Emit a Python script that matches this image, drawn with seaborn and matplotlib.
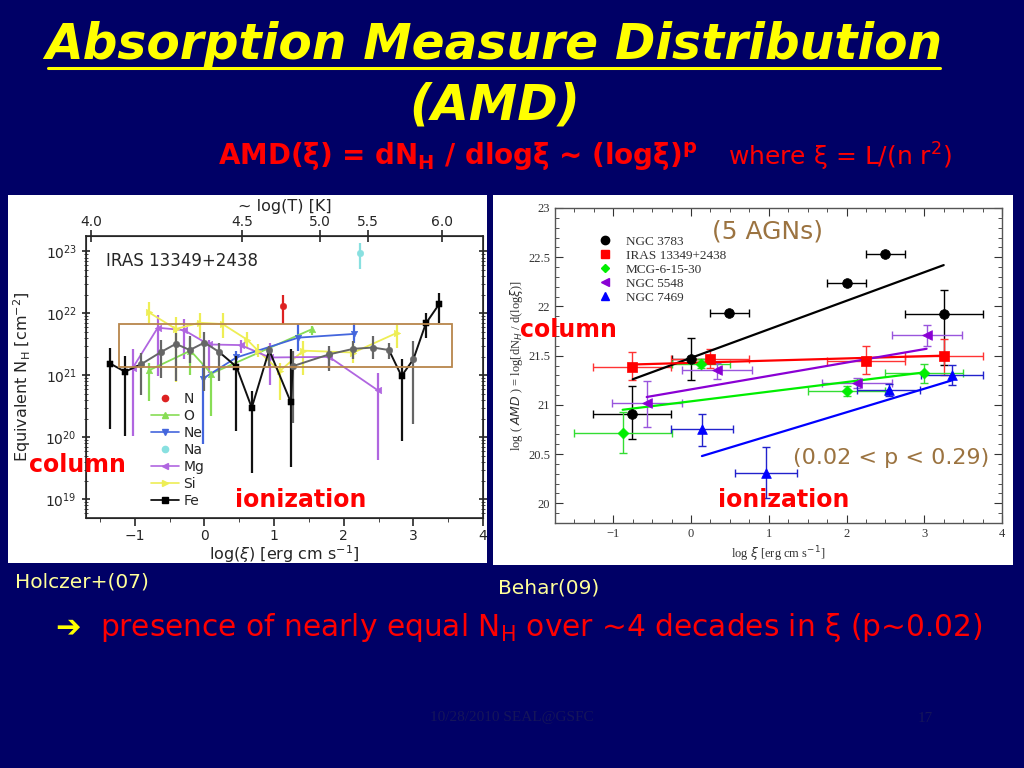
import numpy as np
import matplotlib
matplotlib.use('Agg')
import matplotlib.pyplot as plt
from matplotlib.patches import Rectangle
from matplotlib.lines import Line2D
from matplotlib.ticker import MultipleLocator, LogLocator, NullFormatter
import seaborn as sns

# ---------------- Holczer+(07): IRAS 13349+2438, log N_H per ion vs log(xi)
n_x = [1.13]
n_y = [22.12]
n_lo = [21.83]
n_hi = [22.30]

o_x = [-0.80, -0.20, 0.10, 1.55]
o_y = [21.08, 21.40, 21.03, 21.75]
o_lo = [20.58, 21.00, 20.34, 21.66]
o_hi = [21.20, 21.60, 21.04, 21.80]

ne_x = [-0.02, 0.46, 1.35, 2.15]
ne_y = [20.95, 21.29, 21.61, 21.67]
ne_lo = [19.90, 21.15, 21.39, 21.53]
ne_hi = [21.18, 21.40, 21.83, 21.85]

na_x = [2.24]
na_y = [22.98]
na_lo = [22.72]
na_hi = [23.14]

mg_x = [-1.03, -0.67, -0.29, 0.06, 0.52, 0.94, 1.79, 2.49]
mg_y = [21.12, 21.77, 21.73, 21.50, 21.49, 21.29, 21.30, 20.76]
mg_lo = [20.02, 20.99, 21.26, 21.04, 21.37, 20.85, 21.10, 19.64]
mg_hi = [21.42, 21.97, 21.91, 21.58, 21.58, 21.53, 21.42, 21.04]

si_x = [-0.80, -0.41, -0.07, 0.26, 0.61, 0.77, 1.08, 1.42, 2.14, 2.77]
si_y = [22.02, 21.75, 21.85, 21.83, 21.58, 21.40, 21.07, 21.40, 21.37, 21.69]
si_lo = [21.85, 20.90, 21.60, 21.60, 21.45, 21.30, 20.60, 21.00, 21.20, 21.45]
si_hi = [22.18, 21.95, 22.00, 22.00, 21.70, 21.50, 21.20, 21.55, 21.50, 21.82]

fe_x = [-1.35, -1.14, -0.91, -0.62, -0.41, -0.21, 0.00, 0.21, 0.46, 0.68, 0.93,
        1.24, 1.27, 1.79, 2.14, 2.42, 2.65, 2.83, 3.00, 3.18, 3.37]
fe_y = [21.19, 21.06, 21.18, 21.38, 21.51, 21.41, 21.53, 21.38, 21.14, 20.48, 21.41,
        20.57, 21.15, 21.34, 21.43, 21.45, 21.41, 20.99, 21.26, 21.84, 22.15]
fe_lo = [20.14, 20.02, 20.69, 20.96, 20.91, 21.20, 20.75, 20.91, 20.10, 19.42, 21.15,
         19.52, 20.23, 21.07, 21.26, 21.26, 21.26, 19.94, 20.21, 21.61, 21.85]
fe_hi = [21.45, 21.32, 21.37, 21.57, 21.69, 21.64, 21.70, 21.53, 21.31, 20.75, 21.48,
         21.42, 21.40, 21.48, 21.56, 21.63, 21.53, 21.26, 21.56, 22.01, 22.33]
fe_dark = [1, 1, 0, 0, 0, 0, 0, 0, 1, 1, 0, 1, 0, 0, 0, 0, 0, 1, 0, 1, 1]

box_xi = [-1.22, 3.56]
box_lognh = [21.14, 21.83]

# top axis: log(T) labels at log(xi) positions
logT_labels = ['4.0', '4.5', '5.0', '5.5', '6.0']
logT_at_xi = [-1.63, 0.54, 1.66, 2.35, 3.41]

# ---------------- Behar(09): log AMD for 5 AGNs
agn_names = ['NGC 3783', 'IRAS 13349+2438', 'MCG-6-15-30', 'NGC 5548', 'NGC 7469']

n3783_x = [-0.76, 0.00, 0.49, 2.00, 2.50, 3.25]
n3783_y = [20.91, 21.47, 21.93, 22.24, 22.53, 21.92]
n3783_xe = [0.50, 0.25, 0.25, 0.25, 0.25, 0.50]
n3783_yl = [0.26, 0.22, 0.02, 0.02, 0.02, 0.52]
n3783_yh = [0.28, 0.21, 0.02, 0.02, 0.02, 0.25]
n3783_fit_x = [-0.75, 3.25]
n3783_fit_y = [21.26, 22.42]

iras_x = [-0.76, 0.245, 2.25, 3.25]
iras_y = [21.38, 21.47, 21.45, 21.50]
iras_xe = [0.50, 0.50, 0.50, 0.50]
iras_yl = [0.13, 0.10, 0.14, 0.20]
iras_yh = [0.16, 0.10, 0.15, 0.17]
iras_fit_x = [-0.76, 3.25]
iras_fit_y = [21.41, 21.50]

mcg_x = [-0.88, 0.13, 2.00, 3.00]
mcg_y = [20.71, 21.42, 21.14, 21.32]
mcg_xl = [0.62, 0.38, 0.50, 0.50]
mcg_xh = [0.63, 0.37, 0.50, 0.50]
mcg_yl = [0.20, 0.05, 0.05, 0.10]
mcg_yh = [0.22, 0.05, 0.05, 0.10]
mcg_fit_x = [-0.88, 3.00]
mcg_fit_y = [20.95, 21.33]

n5548_x = [-0.57, 0.34, 2.13, 3.03]
n5548_y = [21.02, 21.35, 21.22, 21.71]
n5548_xe = [0.45, 0.45, 0.45, 0.45]
n5548_yl = [0.24, 0.09, 0.05, 0.11]
n5548_yh = [0.22, 0.08, 0.05, 0.10]
n5548_fit_x = [-0.57, 3.03]
n5548_fit_y = [21.08, 21.57]

n7469_x = [0.14, 0.96, 2.54, 3.36]
n7469_y = [20.75, 20.31, 21.15, 21.30]
n7469_xe = [0.40, 0.40, 0.41, 0.40]
n7469_yl = [0.17, 0.26, 0.06, 0.10]
n7469_yh = [0.16, 0.26, 0.06, 0.10]
n7469_fit_x = [0.14, 3.36]
n7469_fit_y = [20.48, 21.25]


def fx(px):
    return px / 1024.0


def fy(py):
    return 1.0 - py / 768.0


sns.set_style('ticks')
plt.rcParams['font.family'] = ['DejaVu Sans']
plt.rcParams['mathtext.fontset'] = 'dejavusans'

navy = '#000066'
fig = plt.figure(figsize=(10.24, 7.68), dpi=100, facecolor=navy)

# white panels behind the two plots
fig.patches.append(Rectangle((fx(8), fy(563)), fx(479), 368 / 768.0, transform=fig.transFigure,
                             facecolor='white', edgecolor='none', zorder=-5))
fig.patches.append(Rectangle((fx(493), fy(565)), fx(520), 370 / 768.0, transform=fig.transFigure,
                             facecolor='white', edgecolor='none', zorder=-5))

# ================= left panel
axL = fig.add_axes([fx(86), fy(518), fx(397), 282 / 768.0])
axL.set_facecolor('white')
axL.set_yscale('log')


def draw_ion(ax, x, y, lo, hi, color, marker, line=True, ecolor=None):
    x = np.array(x)
    y = np.array(y)
    yv = 10 ** y
    err = [yv - 10 ** np.array(lo), 10 ** np.array(hi) - yv]
    ax.errorbar(x, yv, yerr=err, fmt='none', ecolor=ecolor or color, elinewidth=1.6, zorder=2)
    if line:
        sns.lineplot(x=x, y=yv, ax=ax, color=color, lw=1.3, sort=False, estimator=None, zorder=3)
    sns.scatterplot(x=x, y=yv, ax=ax, color=color, marker=marker, s=22, edgecolor=color, zorder=4)


ion_style = {
    'N': ('#DD2222', 'o', False),
    'O': ('#88DD55', '^', True),
    'Ne': ('#4466DD', 'v', True),
    'Na': ('#88E0E0', 'o', False),
    'Mg': ('#B066E0', '<', True),
    'Si': ('#EEEE55', '>', True),
}
draw_ion(axL, si_x, si_y, si_lo, si_hi, *ion_style['Si'])
draw_ion(axL, o_x, o_y, o_lo, o_hi, *ion_style['O'])
draw_ion(axL, mg_x, mg_y, mg_lo, mg_hi, *ion_style['Mg'])
draw_ion(axL, ne_x, ne_y, ne_lo, ne_hi, *ion_style['Ne'])
draw_ion(axL, n_x, n_y, n_lo, n_hi, *ion_style['N'])
draw_ion(axL, na_x, na_y, na_lo, na_hi, *ion_style['Na'])

# Fe
fe_xa = np.array(fe_x)
fe_v = 10 ** np.array(fe_y)
fe_dk = np.array(fe_dark, dtype=bool)
fe_err = [fe_v - 10 ** np.array(fe_lo), 10 ** np.array(fe_hi) - fe_v]
ecols = np.where(fe_dk, '#111111', '#666666')
for i in range(len(fe_x)):
    axL.errorbar([fe_xa[i]], [fe_v[i]], yerr=[[fe_err[0][i]], [fe_err[1][i]]], fmt='none',
                 ecolor=ecols[i], elinewidth=1.6, zorder=5)
for i in range(len(fe_x) - 1):
    c = '#111111' if (fe_dk[i] or fe_dk[i + 1]) else '#666666'
    sns.lineplot(x=fe_xa[i:i + 2], y=fe_v[i:i + 2], ax=axL, color=c, lw=1.4, sort=False,
                 estimator=None, zorder=6)
sns.scatterplot(x=fe_xa[fe_dk], y=fe_v[fe_dk], ax=axL, color='black', marker='s', s=20,
                edgecolor='black', zorder=7)
sns.scatterplot(x=fe_xa[~fe_dk], y=fe_v[~fe_dk], ax=axL, color='#666666', marker='o', s=22,
                edgecolor='#666666', zorder=7)

axL.add_patch(Rectangle((box_xi[0], 10 ** box_lognh[0]), box_xi[1] - box_xi[0],
                        10 ** box_lognh[1] - 10 ** box_lognh[0], facecolor='none',
                        edgecolor='#B8864B', lw=1.3, zorder=8))

axL.set_xlim(-1.7, 4.0)
axL.set_ylim(10 ** 18.7, 10 ** 23.25)
axL.set_xticks([-1, 0, 1, 2, 3, 4])
axL.xaxis.set_minor_locator(MultipleLocator(0.5))
axL.yaxis.set_major_locator(LogLocator(base=10, numticks=10))
axL.yaxis.set_minor_locator(LogLocator(base=10, subs=np.arange(2, 10), numticks=20))
axL.yaxis.set_minor_formatter(NullFormatter())
axL.tick_params(axis='both', which='major', labelsize=10, length=6, width=1.2)
axL.tick_params(axis='y', which='both', direction='inout', right=True)
axL.tick_params(axis='x', which='both', direction='out', pad=2)
axL.tick_params(axis='both', which='minor', length=3)
for sp in axL.spines.values():
    sp.set_linewidth(1.2)
axL.set_xlabel(r'log($\xi$) [erg cm s$^{-1}$]', fontsize=11.5, labelpad=0)
axL.set_ylabel(r'Equivalent N$_{\rm H}$ [cm$^{-2}$]', fontsize=11.5, labelpad=9)

axT = axL.twiny()
axT.set_xlim(axL.get_xlim())
axT.set_xticks(logT_at_xi, logT_labels)
axT.tick_params(axis='x', direction='inout', length=8, width=1.2, labelsize=10, pad=1)
axT.set_xlabel('~ log(T) [K]', fontsize=11.5, labelpad=3)

axL.text(0.05, 0.91, 'IRAS 13349+2438', transform=axL.transAxes, fontsize=12, va='center')

leg_h = [
    Line2D([], [], color=ion_style['N'][0], marker='o', lw=0, markersize=4.5),
    Line2D([], [], color=ion_style['O'][0], marker='^', lw=1.2, markersize=4.5),
    Line2D([], [], color=ion_style['Ne'][0], marker='v', lw=1.2, markersize=4.5),
    Line2D([], [], color=ion_style['Na'][0], marker='o', lw=0, markersize=4.5),
    Line2D([], [], color=ion_style['Mg'][0], marker='<', lw=1.2, markersize=4.5),
    Line2D([], [], color=ion_style['Si'][0], marker='>', lw=1.2, markersize=4.5),
    Line2D([], [], color='black', marker='s', lw=1.2, markersize=4),
]
axL.legend(leg_h, ['N', 'O', 'Ne', 'Na', 'Mg', 'Si', 'Fe'], loc='lower left',
           bbox_to_anchor=(0.14, 0.0), frameon=False, fontsize=10, handlelength=2.0,
           labelspacing=0.22, handletextpad=0.3, borderaxespad=0.3)

# ================= right panel
axR = fig.add_axes([fx(555), fy(523), fx(447), 315 / 768.0])
axR.set_facecolor('white')

agn_sets = [
    (n3783_x, n3783_y, [n3783_xe, n3783_xe], [n3783_yl, n3783_yh], n3783_fit_x, n3783_fit_y,
     'black', 'black', 'o', 7),
    (iras_x, iras_y, [iras_xe, iras_xe], [iras_yl, iras_yh], iras_fit_x, iras_fit_y,
     '#FF0000', '#FF3333', 's', 7),
    (mcg_x, mcg_y, [mcg_xl, mcg_xh], [mcg_yl, mcg_yh], mcg_fit_x, mcg_fit_y,
     '#00EE00', '#33DD33', 'D', 5.5),
    (n5548_x, n5548_y, [n5548_xe, n5548_xe], [n5548_yl, n5548_yh], n5548_fit_x, n5548_fit_y,
     '#8A00D4', '#9955DD', '<', 7),
    (n7469_x, n7469_y, [n7469_xe, n7469_xe], [n7469_yl, n7469_yh], n7469_fit_x, n7469_fit_y,
     '#0000FF', '#2222CC', '^', 7),
]
for (x, y, xe, ye, fxx, fyy, col, ecol, mk, ms) in agn_sets:
    axR.errorbar(x, y, xerr=xe, yerr=ye, fmt='none', ecolor=ecol, elinewidth=1.0,
                 capsize=3, capthick=1.0, zorder=2)
    sns.lineplot(x=fxx, y=fyy, ax=axR, color=col, lw=1.6, sort=False, estimator=None, zorder=3)
    sns.scatterplot(x=x, y=y, ax=axR, color=col, marker=mk, s=ms ** 2, edgecolor=col,
                    linewidth=0.5, zorder=4)

axR.set_xlim(-1.75, 4.0)
axR.set_ylim(19.8, 23.0)
axR.xaxis.set_major_locator(MultipleLocator(1))
axR.xaxis.set_minor_locator(MultipleLocator(0.25))
axR.yaxis.set_major_locator(MultipleLocator(0.5))
axR.yaxis.set_minor_locator(MultipleLocator(0.1))
axR.set_yticks([20, 20.5, 21, 21.5, 22, 22.5, 23], ['20', '20.5', '21', '21.5', '22', '22.5', '23'])
axR.tick_params(axis='both', which='both', direction='in', top=True, right=True,
                labelsize=9, colors='#333333')
axR.tick_params(axis='both', which='major', length=6)
axR.tick_params(axis='both', which='minor', length=3)
for lab in axR.get_xticklabels() + axR.get_yticklabels():
    lab.set_fontfamily('Liberation Serif')
for sp in axR.spines.values():
    sp.set_color('#555555')
    sp.set_linewidth(1.0)
axR.set_xlabel(r'log $\xi$ [erg cm s$^{-1}$]', fontsize=9, family='Liberation Serif',
               color='#333333', labelpad=3)
axR.set_ylabel(r'log ( $AMD$ ) = log[dN$_H$ / d(log$\xi$)]', fontsize=9,
               family='Liberation Serif', color='#333333', labelpad=2)

leg_r = [Line2D([], [], color=s[6], marker=s[8], lw=0, markersize=s[9] - 1) for s in agn_sets]
leg = axR.legend(leg_r, agn_names, loc='upper left', bbox_to_anchor=(0.07, 0.93),
                 frameon=False, fontsize=9.5, labelspacing=0.14, handletextpad=0.6,
                 borderaxespad=0.0)
for t in leg.get_texts():
    t.set_fontfamily('Liberation Serif')
    t.set_color('#333333')

# ================= slide texts
yellow = '#FFFF00'
red = '#FF0000'
brown = '#9B7340'

fig.text(fx(494), fy(45), 'Absorption Measure Distribution', color=yellow, fontsize=35,
         fontweight='bold', style='italic', ha='center', va='center')
fig.add_artist(Line2D([fx(48), fx(940)], [fy(68), fy(68)], color=yellow, lw=2.2,
                      transform=fig.transFigure))
fig.text(fx(495), fy(105), '(AMD)', color=yellow, fontsize=35, fontweight='bold',
         style='italic', ha='center', va='center')
fig.text(fx(218), fy(157), r'AMD(ξ) = dN$_{\mathbf{H}}$ / dlogξ ~ (logξ)$^{\mathbf{p}}$',
         color=red, fontsize=20, fontweight='bold', ha='left', va='center')
fig.text(fx(728), fy(157), r'where ξ = L/(n r$^2$)', color=red, fontsize=18,
         ha='left', va='center')

fig.text(fx(15), fy(582), 'Holczer+(07)', color='#FFFF99', fontsize=14.5, ha='left', va='center')
fig.text(fx(498), fy(588), 'Behar(09)', color='#FFFF99', fontsize=14.5, ha='left', va='center')

fig.text(fx(55), fy(628), '➔', color=yellow, fontsize=22, fontweight='bold',
         ha='left', va='center')
fig.text(fx(100), fy(628), r'presence of nearly equal N$_{\rm H}$ over ~4 decades in ξ (p~0.02)',
         color=red, fontsize=21.3, ha='left', va='center')

fig.text(fx(512), fy(718), '10/28/2010 SEAL@GSFC', color='#15155a', fontsize=11,
         family='Liberation Serif', ha='center', va='center')
fig.text(fx(925), fy(718), '17', color='#15155a', fontsize=11, family='Liberation Serif',
         ha='center', va='center')

# annotations drawn on the panels
fig.text(fx(77), fy(465), 'column', color=red, fontsize=17, fontweight='bold',
         ha='center', va='center')
fig.text(fx(301), fy(500), 'ionization', color=red, fontsize=17, fontweight='bold',
         ha='center', va='center')
fig.text(fx(568), fy(330), 'column', color=red, fontsize=17, fontweight='bold',
         ha='center', va='center')
fig.text(fx(784), fy(500), 'ionization', color=red, fontsize=17, fontweight='bold',
         ha='center', va='center')
fig.text(fx(767), fy(232), '(5 AGNs)', color=brown, fontsize=18, ha='center', va='center')
fig.text(fx(891), fy(458), '(0.02 < p < 0.29)', color=brown, fontsize=16,
         ha='center', va='center')

fig.savefig('out.png', dpi=100, facecolor=navy)
